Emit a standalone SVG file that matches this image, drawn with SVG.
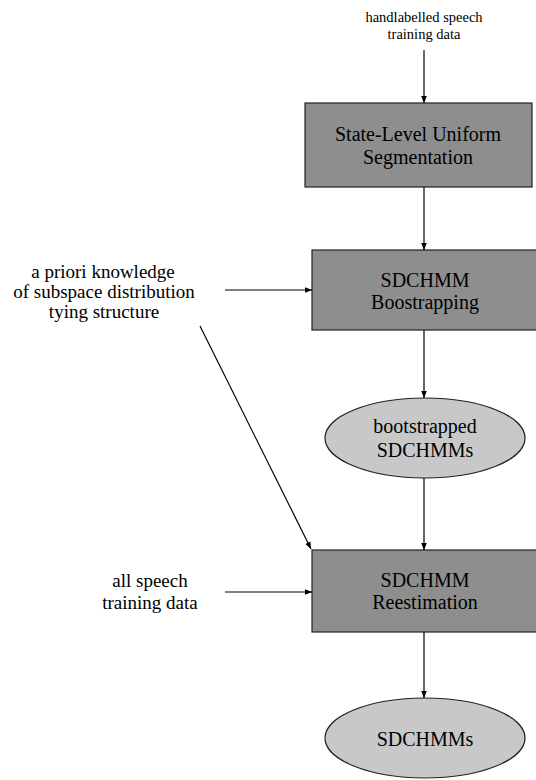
<svg xmlns="http://www.w3.org/2000/svg" width="536" height="780" viewBox="0 0 536 780">
<style>
  text { font-family: "Liberation Serif", "Times New Roman", serif; fill: #000; text-anchor: middle; }
  .box { fill: #8e8e8e; stroke: #222; stroke-width: 1.2; }
  .ell { fill: #c8c8c8; stroke: #222; stroke-width: 1.2; }
  .bt { font-size: 20px; }
  .lbl { font-size: 19px; }
  .small { font-size: 14.5px; }
  .conn line { stroke: #000; stroke-width: 1.2; fill: none; }
</style>
<defs>
  <marker id="arr" viewBox="0 0 10 10" refX="10" refY="5" markerWidth="7" markerHeight="7" orient="auto" markerUnits="userSpaceOnUse">
    <path d="M0,1 L10,5 L0,9 z" fill="#000"/>
  </marker>
</defs>
<rect width="536" height="780" fill="#fff"/>

<g id="input-handlabelled">
  <text class="small" x="424" y="22">handlabelled speech</text>
  <text class="small" x="424" y="39">training data</text>
</g>

<g id="box-segmentation">
  <rect class="box" x="305" y="103" width="227" height="84"/>
  <text class="bt" x="418" y="141">State-Level Uniform</text>
  <text class="bt" x="418" y="164">Segmentation</text>
</g>

<g id="box-bootstrapping">
  <rect class="box" x="312" y="250" width="230" height="80"/>
  <text class="bt" x="425" y="287">SDCHMM</text>
  <text class="bt" x="425" y="309">Boostrapping</text>
</g>

<g id="ellipse-bootstrapped">
  <ellipse class="ell" cx="425" cy="438" rx="100" ry="40"/>
  <text class="bt" x="425" y="433">bootstrapped</text>
  <text class="bt" x="425" y="457">SDCHMMs</text>
</g>

<g id="box-reestimation">
  <rect class="box" x="312" y="550" width="230" height="82"/>
  <text class="bt" x="425" y="587">SDCHMM</text>
  <text class="bt" x="425" y="609">Reestimation</text>
</g>

<g id="ellipse-sdchmms">
  <ellipse class="ell" cx="425" cy="738" rx="100" ry="40"/>
  <text class="bt" x="425" y="746">SDCHMMs</text>
</g>

<g id="input-apriori">
  <text class="lbl" x="103" y="278">a priori knowledge</text>
  <text class="lbl" x="104" y="298">of subspace distribution</text>
  <text class="lbl" x="104" y="318">tying structure</text>
</g>

<g id="input-allspeech">
  <text class="lbl" x="150" y="587">all speech</text>
  <text class="lbl" x="150" y="609">training data</text>
</g>

<g id="connectors" class="conn">
  <line x1="424" y1="50" x2="424" y2="103" marker-end="url(#arr)"/>
  <line x1="424" y1="187" x2="424" y2="250" marker-end="url(#arr)"/>
  <line x1="424" y1="330" x2="424" y2="398" marker-end="url(#arr)"/>
  <line x1="424" y1="478" x2="424" y2="550" marker-end="url(#arr)"/>
  <line x1="424" y1="632" x2="424" y2="698" marker-end="url(#arr)"/>
  <line x1="225" y1="290" x2="312" y2="290" marker-end="url(#arr)"/>
  <line x1="200" y1="326" x2="311" y2="549" marker-end="url(#arr)"/>
  <line x1="225" y1="592" x2="312" y2="592" marker-end="url(#arr)"/>
</g>
</svg>
